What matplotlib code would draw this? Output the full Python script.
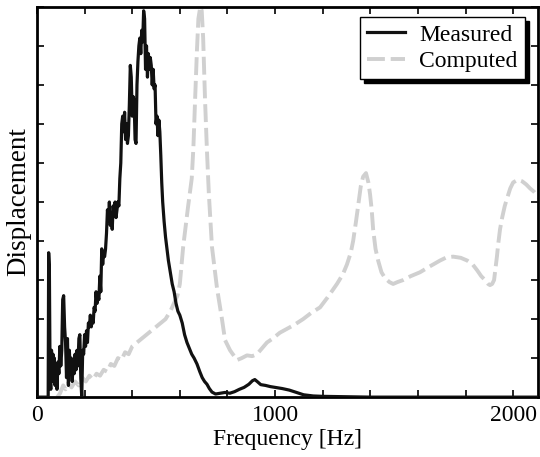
import matplotlib
matplotlib.use("Agg")
import matplotlib.pyplot as plt
from matplotlib.ticker import MultipleLocator, FuncFormatter

plt.rcParams['font.family'] = ['Liberation Serif', 'DejaVu Serif']
plt.rcParams['font.size'] = 17

# Measured response (frequency in Hz, normalised displacement)
meas_f = [0, 44, 47, 49, 52, 55, 58, 61, 64, 67, 70, 73, 76, 80, 84, 88, 92, 96, 100, 104,
          108, 112, 116, 120, 124, 128, 132, 136, 140, 144, 148, 152, 156, 160, 164, 168,
          172, 176, 180, 184, 188, 192, 196, 200, 204, 208, 212, 216, 220, 224, 228, 232,
          236, 240, 244, 248, 252, 256, 260, 264, 268, 272, 276, 280, 284, 288, 292, 296,
          300, 304, 308, 312, 316, 320, 324, 328, 332, 336, 340, 344, 348, 352, 356, 360,
          364, 368, 372, 376, 380, 384, 388, 392, 396, 400, 404, 408, 412, 416, 420, 424,
          428, 432, 436, 440, 444, 448, 452, 456, 460, 464, 468, 472, 476, 480, 484, 488,
          492, 496, 500, 504, 508, 512, 516, 520, 524, 528, 534, 540, 546, 552, 560, 568,
          576, 584, 592, 600, 610, 620, 630, 640, 650, 660, 672, 684, 694, 704, 714, 724,
          735, 750, 770, 790, 810, 830, 850, 870, 890, 905, 915, 925, 940, 960, 980, 1000,
          1030, 1060, 1090, 1120, 1160, 1200, 1300, 1400, 2105]
meas_y = [0.0, 0.0, 0.0, 0.37, 0.33, 0.05, 0.02, 0.12, 0.05, 0.11, 0.04, 0.10, 0.03, 0.08, 0.02, 0.09, 0.06, 0.13, 0.08, 0.12,
          0.25, 0.26, 0.18, 0.14, 0.05, 0.15, 0.03, 0.12, 0.06, 0.10, 0.04, 0.09, 0.06, 0.11, 0.07, 0.12,
          0.08, 0.15, 0.16, 0.05, 0.0, 0.12, 0.11, 0.16, 0.13, 0.17, 0.14, 0.19, 0.18, 0.21, 0.18, 0.20,
          0.19, 0.23, 0.22, 0.27, 0.24, 0.26, 0.25, 0.31, 0.27, 0.38, 0.34, 0.37, 0.36, 0.38, 0.42, 0.48,
          0.45, 0.50, 0.44, 0.46, 0.43, 0.49, 0.47, 0.50, 0.46, 0.48, 0.50, 0.49, 0.56, 0.60, 0.70, 0.72,
          0.68, 0.73, 0.66, 0.70, 0.65, 0.67, 0.75, 0.85, 0.82, 0.72, 0.77, 0.76, 0.66, 0.65, 0.80, 0.86,
          0.90, 0.92, 0.88, 0.94, 0.91, 0.99, 0.97, 0.84, 0.90, 0.82, 0.88, 0.84, 0.87, 0.85, 0.80, 0.84,
          0.79, 0.80, 0.70, 0.72, 0.67, 0.71, 0.68, 0.62, 0.55, 0.50, 0.45, 0.41, 0.38, 0.35, 0.32, 0.29,
          0.27, 0.24, 0.22, 0.21, 0.19, 0.16, 0.14, 0.125, 0.11, 0.10, 0.085, 0.065, 0.05, 0.04, 0.033, 0.022,
          0.013, 0.008, 0.010, 0.012, 0.010, 0.014, 0.020, 0.025, 0.033, 0.042, 0.045, 0.040, 0.032, 0.030, 0.027, 0.025,
          0.022, 0.018, 0.012, 0.006, 0.003, 0.002, 0.001, 0.0, 0.0]

# Computed response
comp_f = [85, 97, 110, 120, 130, 145, 160, 175, 190, 205, 220, 235, 250, 265, 280, 295, 310, 325,
          340, 355, 370, 385, 400, 420, 440, 460, 480, 500, 520, 540, 560, 575, 590, 600, 614,
          635, 650, 657, 664, 672, 678, 686, 692, 698, 706, 714, 722, 735, 756, 777, 790, 811,
          840, 860, 882, 904, 924, 945, 966, 990, 1020, 1050, 1080, 1118, 1150, 1189, 1220, 1260,
          1285, 1302, 1318, 1328, 1340, 1349, 1360, 1370, 1382, 1392, 1399, 1406, 1412, 1422,
          1433, 1447, 1462, 1480, 1496, 1515, 1538, 1570, 1609, 1650, 1693, 1720, 1748, 1780,
          1807, 1830, 1849, 1866, 1882, 1895, 1903, 1912, 1920, 1926, 1932, 1937, 1945, 1954,
          1965, 1975, 1988, 2000, 2020, 2038, 2055, 2071, 2090, 2110]
comp_y = [0.0, 0.01, 0.03, 0.02, 0.035, 0.025, 0.04, 0.03, 0.05, 0.04, 0.055, 0.045, 0.06, 0.055, 0.07, 0.065, 0.085, 0.08,
          0.10, 0.095, 0.115, 0.11, 0.13, 0.14, 0.15, 0.16, 0.17, 0.18, 0.19, 0.20, 0.22, 0.24, 0.26, 0.29, 0.385,
          0.49, 0.56, 0.64, 0.76, 0.89, 0.97, 1.0, 0.99, 0.92, 0.76, 0.63, 0.52, 0.385, 0.28, 0.20, 0.146, 0.12,
          0.095, 0.10, 0.107, 0.105, 0.11, 0.125, 0.14, 0.15, 0.165, 0.175, 0.185, 0.20, 0.215, 0.23, 0.255, 0.29,
          0.315, 0.34, 0.37, 0.40, 0.45, 0.49, 0.54, 0.565, 0.574, 0.55, 0.52, 0.48, 0.43, 0.38,
          0.35, 0.32, 0.305, 0.295, 0.29, 0.295, 0.30, 0.31, 0.32, 0.335, 0.35, 0.358, 0.36, 0.357,
          0.35, 0.34, 0.325, 0.31, 0.30, 0.29, 0.287, 0.29, 0.30, 0.33, 0.36, 0.39, 0.43, 0.46,
          0.49, 0.51, 0.535, 0.55, 0.557, 0.553, 0.545, 0.535, 0.525, 0.51]

x_tick_labels = {0: "0", 1000: "1000", 2000: "2000"}

fig = plt.figure(figsize=(5.4, 4.57), dpi=100)
ax = fig.add_axes([0.0685, 0.131, 0.928, 0.854])

ax.plot(meas_f, meas_y, color='#111111', lw=2.3, label='Measured', zorder=3)
ax.plot(comp_f, comp_y, color='#d0d0d0', lw=2.8, dashes=(4.6, 1.5), label='Computed', zorder=2)

ax.set_xlim(0, 2105)
ax.set_ylim(0, 1.0)

ax.xaxis.set_major_locator(MultipleLocator(200))
ax.xaxis.set_minor_locator(MultipleLocator(400))
ax.yaxis.set_major_locator(MultipleLocator(0.1))
ax.yaxis.set_minor_locator(MultipleLocator(0.2))
ax.xaxis.set_major_formatter(FuncFormatter(lambda v, p: x_tick_labels.get(int(round(v)), "")))
ax.yaxis.set_major_formatter(FuncFormatter(lambda v, p: ""))

ax.tick_params(which='major', direction='in', length=5, width=1.2, top=True, right=True, pad=6)
ax.tick_params(which='minor', length=0, top=True, right=True)
ax.grid(False, which='major')
ax.grid(True, which='minor', color='#cccccc', lw=0.8, ls=(0, (2.5, 2.5)))
ax.set_axisbelow(True)

for s in ax.spines.values():
    s.set_linewidth(2.0)

ax.set_xlabel('Frequency [Hz]', labelpad=2)
ax.set_ylabel('Displacement', fontsize=19.5)
ax.yaxis.set_label_coords(-0.012, 0.5)

leg = ax.legend(loc='upper right', fancybox=False, framealpha=1, edgecolor='black',
                shadow={'color': 'black', 'alpha': 1, 'ox': 3, 'oy': -3},
                borderpad=0.3, handlelength=1.6, handletextpad=0.6, labelspacing=0.2,
                bbox_to_anchor=(0.997, 1.004))
leg.get_frame().set_linewidth(1.0)

fig.savefig('out.png', dpi=100)
